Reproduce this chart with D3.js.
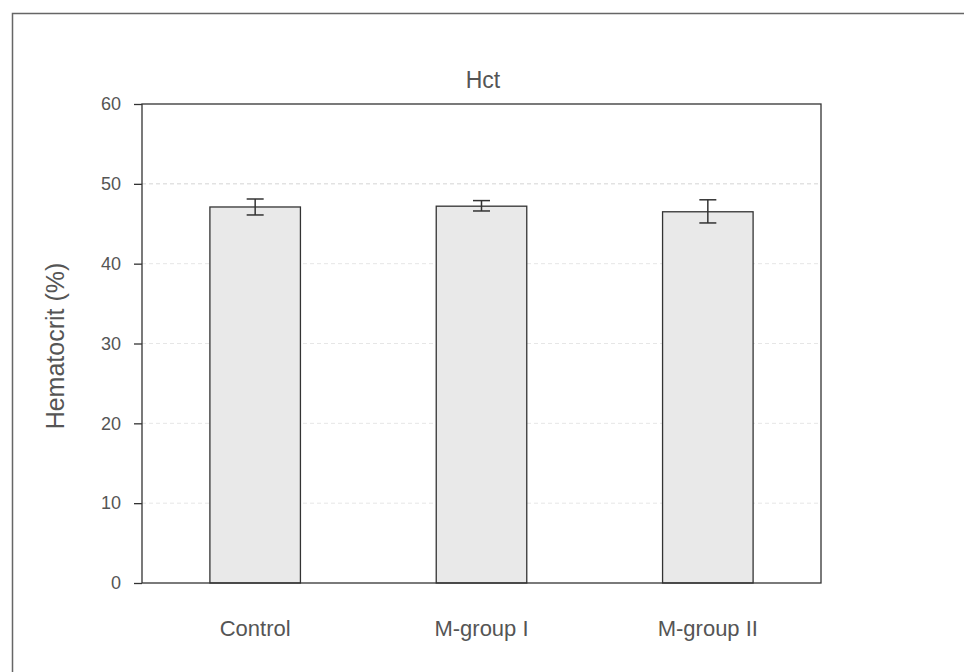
<!DOCTYPE html>
<html><head><meta charset="utf-8">
<script src="https://cdn.jsdelivr.net/npm/d3@7"></script>
<style>body{margin:0;background:#fff}svg{display:block}text{font-family:"Liberation Sans",Arial,sans-serif;fill:#555}</style>
</head><body>
<svg id="c" width="964" height="672"></svg>
<script>
const categories = ["Control", "M-group I", "M-group II"];
const values = [47.1, 47.2, 46.5];
const errLow = [46.1, 46.6, 45.1];
const errHigh = [48.1, 47.9, 48.0];
const yTicks = [0, 10, 20, 30, 40, 50, 60];
const gridTicks = [10, 20, 30, 40, 50];
const title = "Hct";
const yLabel = "Hematocrit (%)";

const svg = d3.select("#c");
const m = {l: 142, r: 821, t: 104, b: 583};
const x = d3.scaleBand().domain(categories).range([m.l, m.r]).paddingInner(0.6).paddingOuter(0.3);
const y = d3.scaleLinear().domain([0, 60]).range([m.b, m.t]);

// outer frame (open to right/bottom)
svg.append("path").attr("d", "M12.5,672V13.5H964").attr("fill", "none").attr("stroke", "#666").attr("stroke-width", 1.5);

// gridlines
svg.append("g").selectAll("line").data(gridTicks).join("line")
  .attr("x1", m.l).attr("x2", m.r).attr("y1", d => y(d)).attr("y2", d => y(d))
  .attr("stroke", d => d === 50 ? "#d4d4d4" : "#e6e6e6").attr("stroke-width", 1).attr("stroke-dasharray", "4,3");

// bars
svg.append("g").selectAll("rect").data(values).join("rect")
  .attr("x", (d, i) => x(categories[i])).attr("width", x.bandwidth())
  .attr("y", d => y(d)).attr("height", d => y(0) - y(d))
  .attr("fill", "#e9e9e9").attr("stroke", "#333").attr("stroke-width", 1.3);

// error bars
const eg = svg.append("g").attr("stroke", "#333").attr("stroke-width", 1.5);
categories.forEach((c, i) => {
  const cx = x(c) + x.bandwidth() / 2;
  eg.append("line").attr("x1", cx).attr("x2", cx).attr("y1", y(errLow[i])).attr("y2", y(errHigh[i]));
  eg.append("line").attr("x1", cx - 8.5).attr("x2", cx + 8.5).attr("y1", y(errLow[i])).attr("y2", y(errLow[i]));
  eg.append("line").attr("x1", cx - 8.5).attr("x2", cx + 8.5).attr("y1", y(errHigh[i])).attr("y2", y(errHigh[i]));
});

// plot frame
svg.append("rect").attr("x", m.l).attr("y", m.t).attr("width", m.r - m.l).attr("height", m.b - m.t)
  .attr("fill", "none").attr("stroke", "#333").attr("stroke-width", 1.3);

// y axis
const ya = svg.append("g").attr("transform", `translate(${m.l},0)`)
  .call(d3.axisLeft(y).tickValues(yTicks).tickSize(8).tickPadding(13));
ya.select(".domain").remove();
ya.selectAll("line").attr("stroke", "#333").attr("stroke-width", 1.3);
ya.selectAll("text").attr("font-size", 18).attr("fill", "#555").attr("font-family", "Liberation Sans, Arial, sans-serif");

// x labels
svg.append("g").selectAll("text").data(categories).join("text")
  .attr("x", d => x(d) + x.bandwidth() / 2).attr("y", 636)
  .attr("text-anchor", "middle").attr("font-size", 22).text(d => d);

// title
svg.append("text").attr("x", 483).attr("y", 88).attr("text-anchor", "middle").attr("font-size", 23).text(title);

// y label
svg.append("text").attr("transform", "translate(64,346) rotate(-90)").attr("text-anchor", "middle")
  .attr("font-size", 25).text(yLabel);
</script>
</body></html>
